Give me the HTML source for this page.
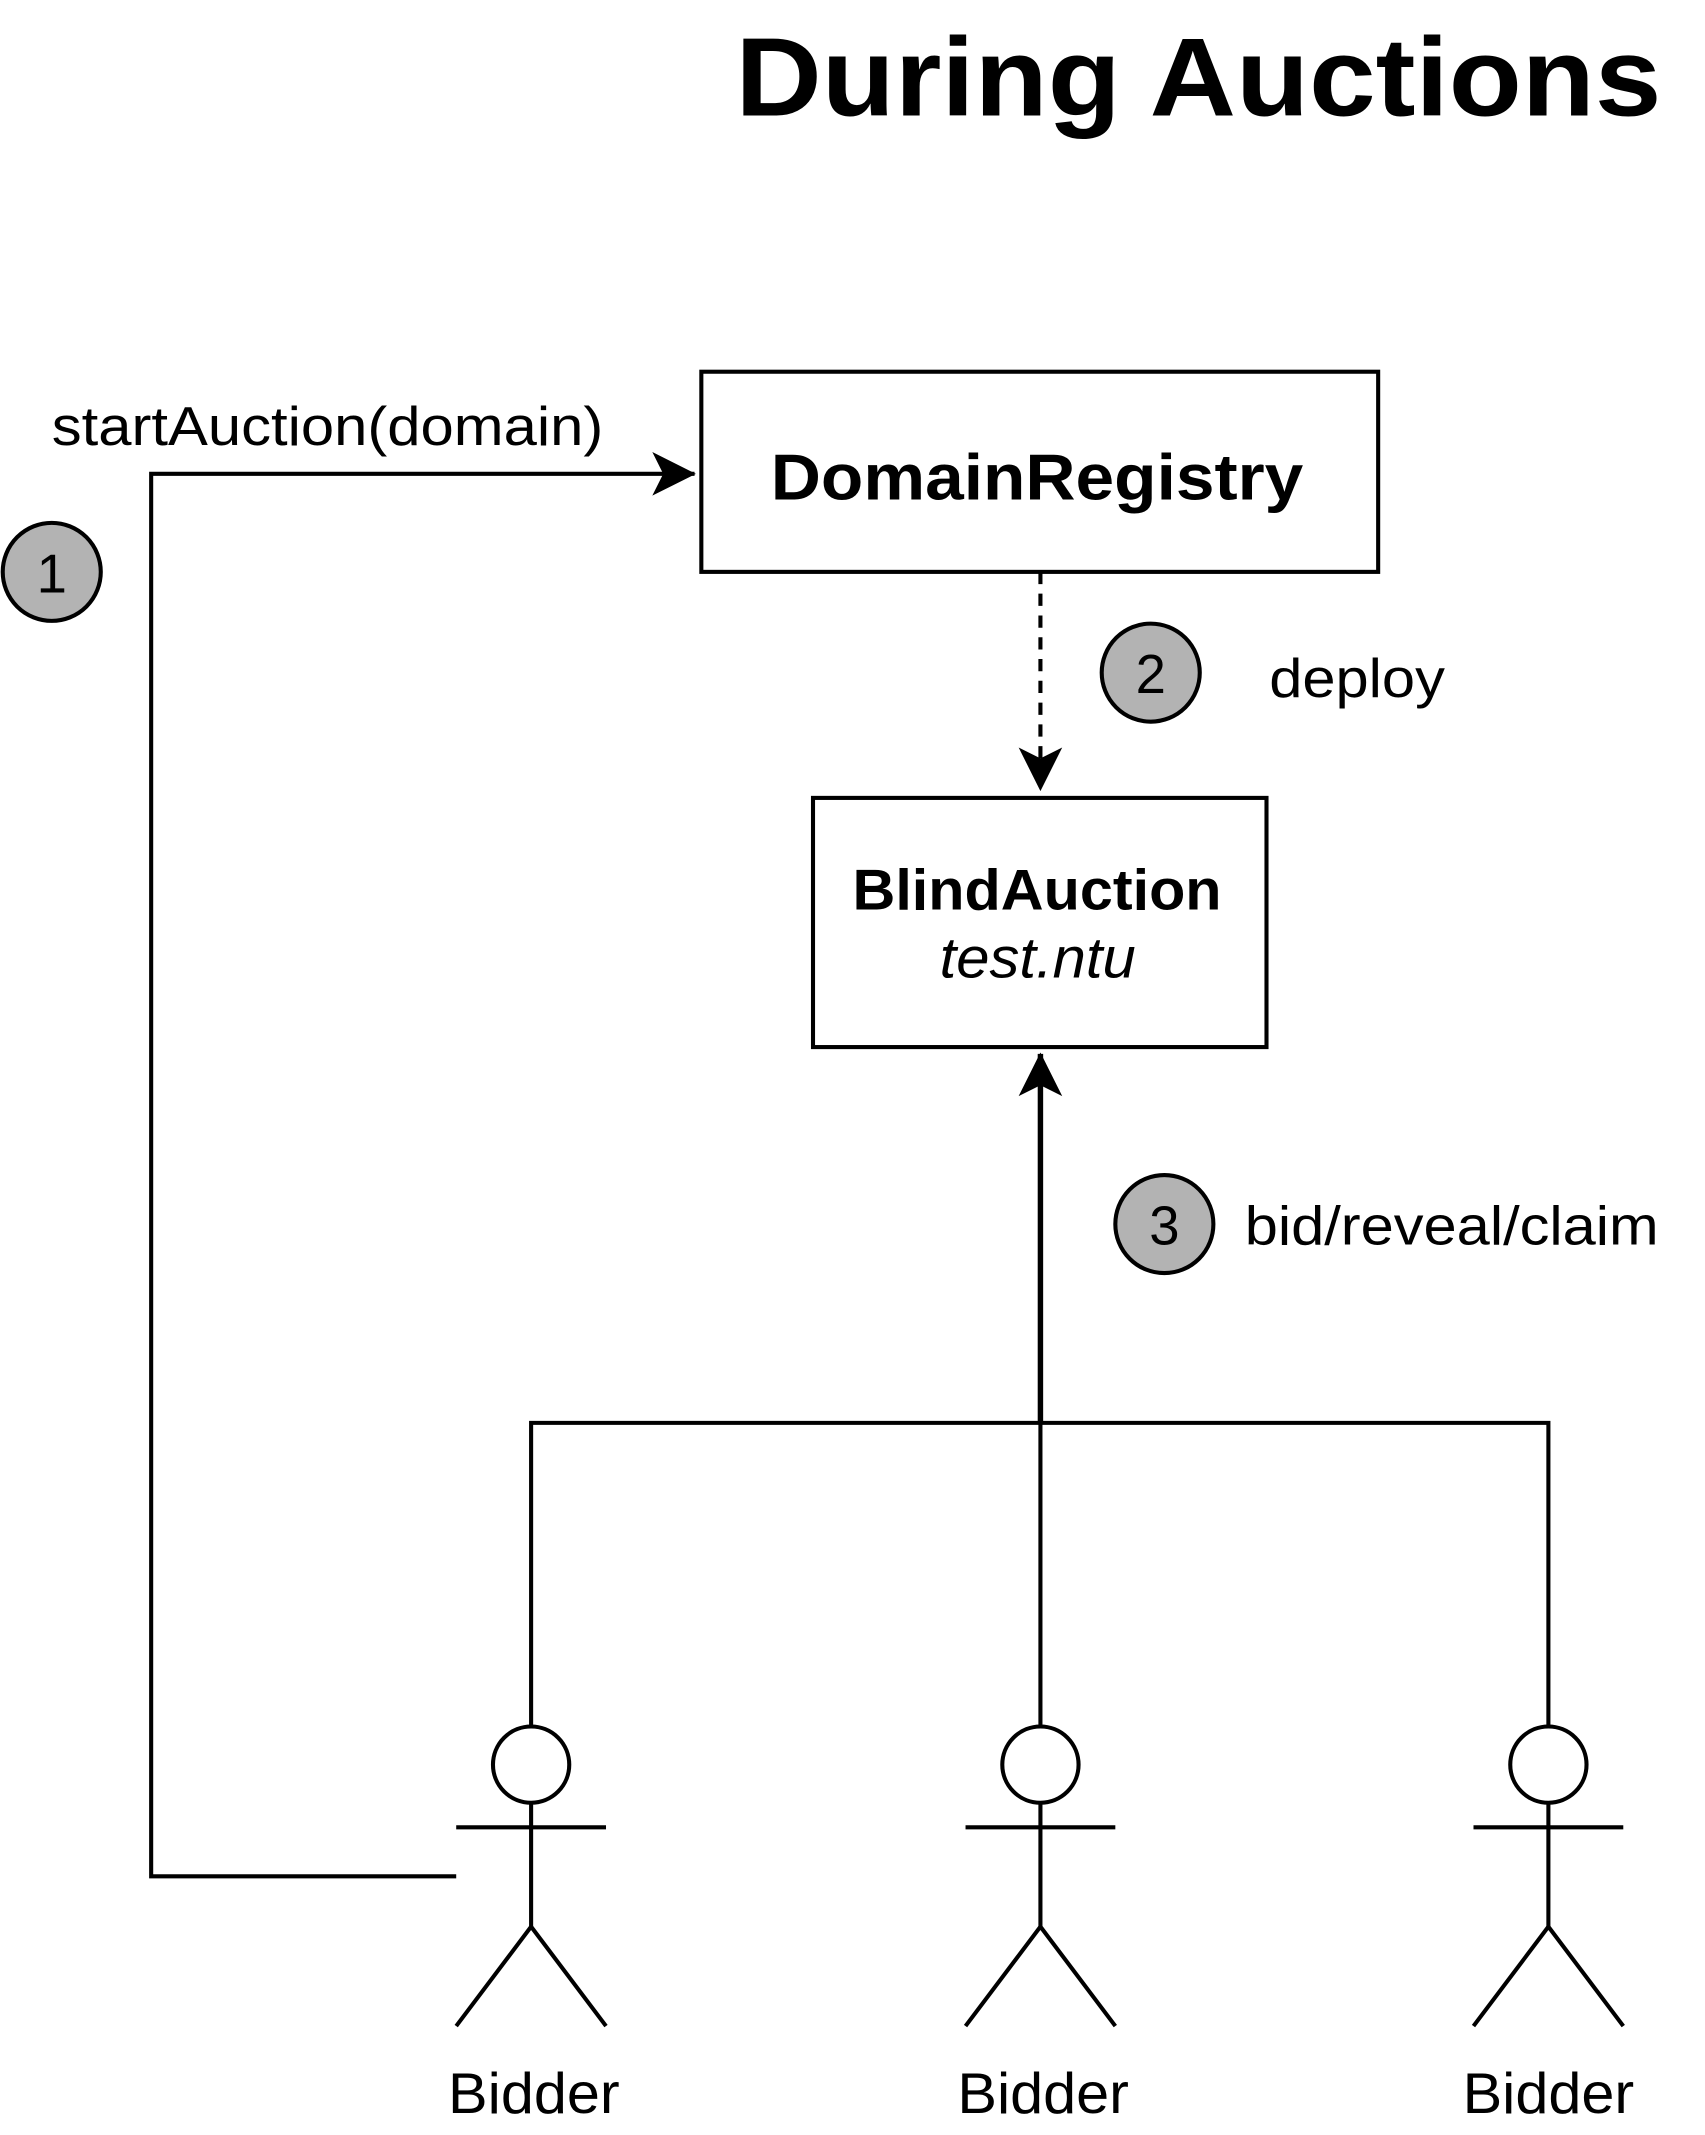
<!DOCTYPE html>
<html><head><style>html,body{margin:0;padding:0;background:#fff}svg{display:block}</style></head>
<body>
<svg width="1705" height="2135" viewBox="0 0 1252 1568" preserveAspectRatio="none" xmlns="http://www.w3.org/2000/svg" font-family="Liberation Sans, sans-serif">
<defs>
<marker id="b" markerWidth="36" markerHeight="36" refX="33" refY="18" orient="auto" markerUnits="userSpaceOnUse" viewBox="0 0 36 36"><path d="M2,2 L34,18 L2,34 L10,18 Z" fill="#000"/></marker>
</defs>
<text x="540" y="85" font-size="82" font-weight="bold" textLength="680" lengthAdjust="spacingAndGlyphs">During Auctions</text>
<rect x="515" y="273" width="497" height="147" fill="#fff" stroke="#000" stroke-width="3"/>
<text x="566" y="367" font-size="48" font-weight="bold" textLength="391" lengthAdjust="spacingAndGlyphs">DomainRegistry</text>
<text x="38" y="327" font-size="40" textLength="405" lengthAdjust="spacingAndGlyphs">startAuction(domain)</text>
<polyline points="335,1378 111,1378 111,348 510,348" fill="none" stroke="#000" stroke-width="3" marker-end="url(#b)"/>
<circle cx="38" cy="420" r="36" fill="#b3b3b3" stroke="#000" stroke-width="3"/>
<text x="38" y="435" font-size="40" text-anchor="middle">1</text>
<line x1="764" y1="420" x2="764" y2="580" stroke="#000" stroke-width="3" stroke-dasharray="9,7" marker-end="url(#b)"/>
<circle cx="845" cy="494" r="36" fill="#b3b3b3" stroke="#000" stroke-width="3"/>
<text x="845" y="509" font-size="40" text-anchor="middle">2</text>
<text x="932" y="512" font-size="40" textLength="129" lengthAdjust="spacingAndGlyphs">deploy</text>
<rect x="597" y="586" width="333" height="183" fill="#fff" stroke="#000" stroke-width="3"/>
<text x="626" y="668" font-size="42" font-weight="bold" textLength="271" lengthAdjust="spacingAndGlyphs">BlindAuction</text>
<text x="690" y="718" font-size="42" font-style="italic" textLength="144" lengthAdjust="spacingAndGlyphs">test.ntu</text>
<line x1="764" y1="1045" x2="764" y2="774" stroke="#000" stroke-width="4" marker-end="url(#b)"/>
<circle cx="855" cy="899" r="36" fill="#b3b3b3" stroke="#000" stroke-width="3"/>
<text x="855" y="914" font-size="40" text-anchor="middle">3</text>
<text x="914" y="914" font-size="40" textLength="304" lengthAdjust="spacingAndGlyphs">bid/reveal/claim</text>
<polyline points="390,1268 390,1045 1137,1045 1137,1268" fill="none" stroke="#000" stroke-width="3"/>
<line x1="764" y1="1045" x2="764" y2="1268" stroke="#000" stroke-width="3"/>
<g fill="none" stroke="#000" stroke-width="3">
<g transform="translate(390,0)"><circle cx="0" cy="1296" r="28" fill="#fff"/><line x1="-55" y1="1342" x2="55" y2="1342"/><line x1="0" y1="1324" x2="0" y2="1415"/><polyline points="-55,1488 0,1415 55,1488"/></g>
<g transform="translate(764,0)"><circle cx="0" cy="1296" r="28" fill="#fff"/><line x1="-55" y1="1342" x2="55" y2="1342"/><line x1="0" y1="1324" x2="0" y2="1415"/><polyline points="-55,1488 0,1415 55,1488"/></g>
<g transform="translate(1137,0)"><circle cx="0" cy="1296" r="28" fill="#fff"/><line x1="-55" y1="1342" x2="55" y2="1342"/><line x1="0" y1="1324" x2="0" y2="1415"/><polyline points="-55,1488 0,1415 55,1488"/></g>
</g>
<g font-size="42">
<text x="329" y="1552" textLength="126" lengthAdjust="spacingAndGlyphs">Bidder</text>
<text x="703" y="1552" textLength="126" lengthAdjust="spacingAndGlyphs">Bidder</text>
<text x="1074" y="1552" textLength="126" lengthAdjust="spacingAndGlyphs">Bidder</text>
</g>
</svg>
</body></html>
